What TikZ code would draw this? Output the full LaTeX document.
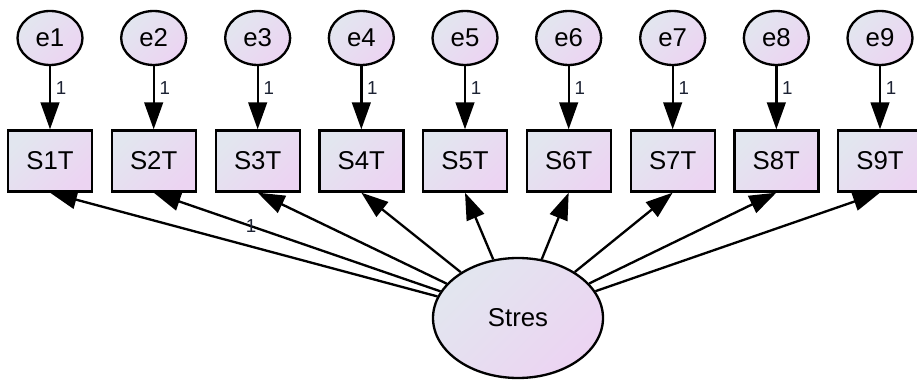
\documentclass[tikz,border=0pt]{standalone}
\usepackage{fontspec}
\setmainfont{Liberation Sans}
\usepackage{xcolor}
\usetikzlibrary{arrows.meta,shapes.geometric}

\definecolor{fillA}{HTML}{E2E6EF}
\definecolor{fillB}{HTML}{ECD4F2}
\definecolor{labelink}{HTML}{1C2233}

\tikzset{
  shade/.style={draw, line width=0.07cm, inner sep=0pt,
    top color=fillA, bottom color=fillB, shading angle=45,
    font=\fontsize{22}{22}\selectfont},
  err/.style={shade, ellipse, minimum width=1.95cm, minimum height=1.62cm},
  obs/.style={shade, rectangle, minimum width=2.52cm, minimum height=1.83cm},
  lat/.style={shade, ellipse, minimum width=5.10cm, minimum height=3.60cm},
  load/.style={line width=0.07cm, -{Triangle[length=0.81cm,width=0.56cm]}},
  one/.style={font=\fontsize{16}{16}\selectfont, text=labelink, inner sep=4pt}
}

\begin{document}
\begin{tikzpicture}[auto]
    \useasboundingbox (0,0) rectangle (27.51,11.43);
    \node[err] (e1) at ( 1.50, 10.29) {e1};
    \node[err] (e2) at ( 4.61, 10.29) {e2};
    \node[err] (e3) at ( 7.73, 10.29) {e3};
    \node[err] (e4) at (10.84, 10.29) {e4};
    \node[err] (e5) at (13.95, 10.29) {e5};
    \node[err] (e6) at (17.06, 10.29) {e6};
    \node[err] (e7) at (20.18, 10.29) {e7};
    \node[err] (e8) at (23.29, 10.29) {e8};
    \node[err] (e9) at (26.40, 10.29) {e9};
    \node[obs] (s1) at ( 1.50,  6.60) {S1T};
    \node[obs] (s2) at ( 4.61,  6.60) {S2T};
    \node[obs] (s3) at ( 7.73,  6.60) {S3T};
    \node[obs] (s4) at (10.84,  6.60) {S4T};
    \node[obs] (s5) at (13.95,  6.60) {S5T};
    \node[obs] (s6) at (17.06,  6.60) {S6T};
    \node[obs] (s7) at (20.18,  6.60) {S7T};
    \node[obs] (s8) at (23.29,  6.60) {S8T};
    \node[obs] (s9) at (26.40,  6.60) {S9T};
    \node[lat] (st) at (15.54,  1.89) {Stres};
    % error terms
    \draw [load] (e1) to node[one, pos=0.35] {1} (s1);
    \draw [load] (e2) to node[one, pos=0.35] {1} (s2);
    \draw [load] (e3) to node[one, pos=0.35] {1} (s3);
    \draw [load] (e4) to node[one, pos=0.35] {1} (s4);
    \draw [load] (e5) to node[one, pos=0.35] {1} (s5);
    \draw [load] (e6) to node[one, pos=0.35] {1} (s6);
    \draw [load] (e7) to node[one, pos=0.35] {1} (s7);
    \draw [load] (e8) to node[one, pos=0.35] {1} (s8);
    \draw [load] (e9) to node[one, pos=0.35] {1} (s9);
    % loadings
    \draw [load] (st) to (s1.south);
    \draw [load] (st) to node[one, pos=0.66, anchor=center] {1} (s2.south);
    \draw [load] (st) to (s3.south);
    \draw [load] (st) to (s4.south);
    \draw [load] (st) to (s5.south);
    \draw [load] (st) to (s6.south);
    \draw [load] (st) to (s7.south);
    \draw [load] (st) to (s8.south);
    \draw [load] (st) to (s9.south);
  \end{tikzpicture}
\end{document}
